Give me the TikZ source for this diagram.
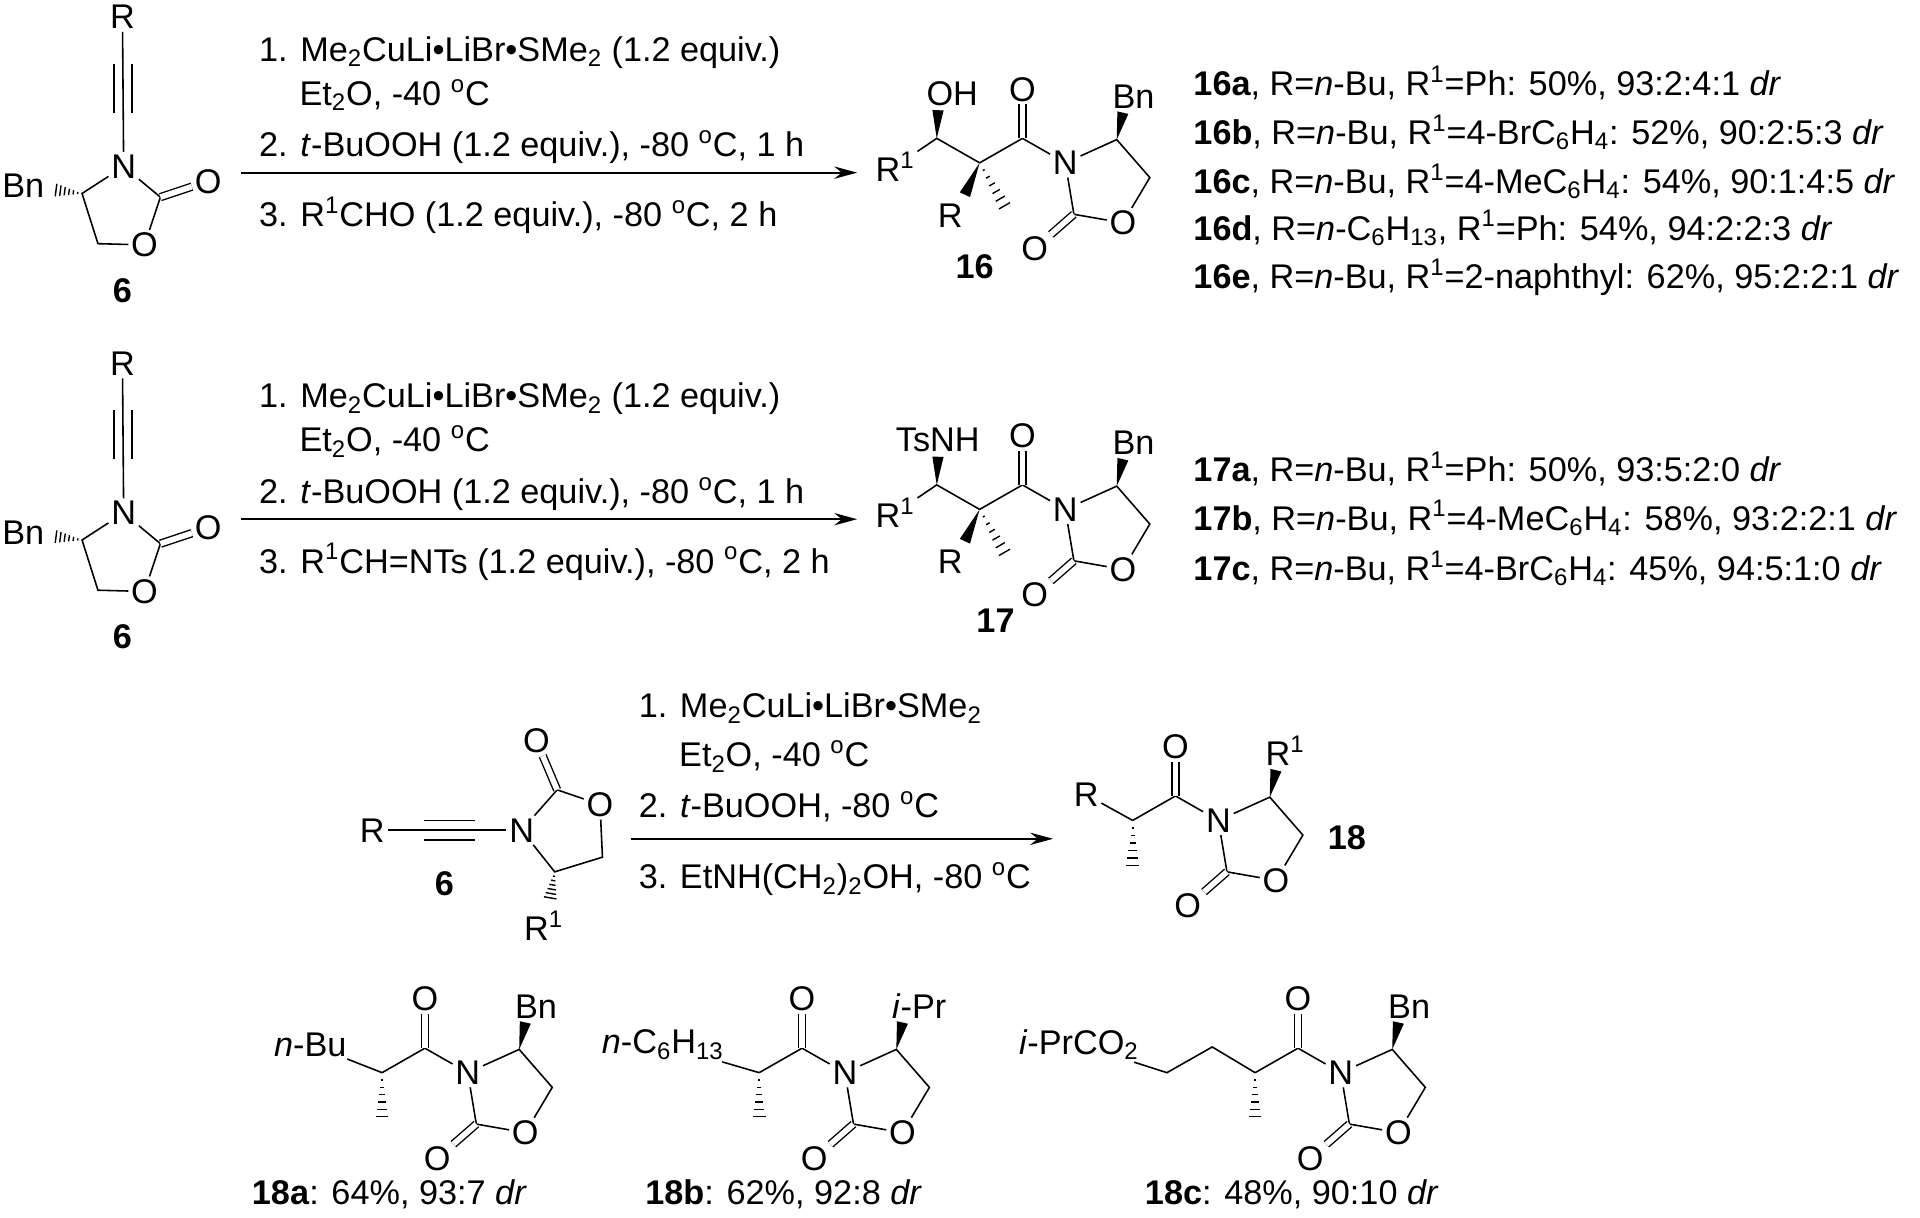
\documentclass[tikz,border=0pt]{standalone}
\usepackage{fontspec}
\setmainfont{Liberation Sans}
\usetikzlibrary{calc,arrows.meta}
\newcommand\chemsize{\fontsize{19.5}{23}\selectfont}
\newcommand\dgC{\textsuperscript{o}C}
% wedge: narrow at #1, wide at #2
\newcommand\wedgeb[2]{\fill (#1) -- ($(#2)!3.2pt!90:(#1)$) -- ($(#2)!3.2pt!-90:(#1)$) -- cycle;}
% hashed bond: narrow at #1, wide at #2
\newcommand\hashb[2]{\foreach \k in {1,...,6}{%
  \pgfmathsetmacro\hw{0.6*\k}
  \coordinate (hh) at ($(#1)!\k/6.5!(#2)$);
  \draw[line width=0.8pt] ($(hh)!\hw pt!90:(#2)$) -- ($(hh)!\hw pt!-90:(#2)$);}}

\begin{document}
\begin{tikzpicture}[
	x=0.0245cm, y=-0.0245cm, line width=0.9pt,
	every node/.style={font=\chemsize},
	atom/.style={inner sep=1.2pt},
	txt/.style={inner sep=0pt, anchor=base west},
	bold/.style={font=\chemsize\bfseries},
	dbl/.style={double, double distance=3.2pt, line width=0.8pt},
	rxn/.style={line width=1pt, -{Stealth[length=13pt,width=7pt]}},
	pics/oxaz/.style={code={
		\coordinate (-Q) at (0,0);
		\coordinate (-Cco) at (35,-20);
		\node[atom] (-O) at (35,-60) {O};
		\node[atom] (-N) at (70,0) {N};
		\coordinate (-C4) at (112,-19);
		\coordinate (-W) at (117,-41);
		\node[inner sep=0pt, anchor=south west] (-Sub) at (108,-44) {#1};
		\coordinate (-C5) at (139,12);
		\node[atom] (-Or) at (117,49) {O};
		\coordinate (-C2) at (77,42);
		\node[atom] (-Ox) at (45,70) {O};
		\draw (-Q) -- (-Cco) -- (-N) -- (-C4) -- (-C5) -- (-Or) -- (-C2) -- (-N);
		\draw[dbl] (-Cco) -- (-O);
		\draw[dbl] (-C2) -- (-Ox);
		\wedgeb{-C4}{-W}
	}},
	pics/ynamide/.style={code={
		\node[atom] (-R) at (100,14) {R};
		\node[atom] (-N) at (101,136) {N};
		\draw (-R) -- (-N);
		\draw (93,52) -- (93,92) (108,52) -- (108,92);
		\coordinate (-C4) at (67,158);
		\node[atom] (-Bn) at (19,152) {Bn};
		\coordinate (-H) at (44,155);
		\coordinate (-C5) at (80,199);
		\node[atom] (-Or) at (118,200) {O};
		\coordinate (-C2) at (131,161);
		\node[atom] (-Ox) at (170,148) {O};
		\draw (-N) -- (-C4) -- (-C5) -- (-Or) -- (-C2) -- (-N);
		\draw[dbl] (-C2) -- (-Ox);
		\hashb{-C4}{-H}
		\node[bold] (-lab) at (100,237) {6};
	}}
	]
	\useasboundingbox (0,0) rectangle (1568,994);

	% row 1
	\pic (s1) at (0,0) {ynamide};
	\coordinate (a1s) at (197,141);
	\coordinate (a1e) at (700,141);
	\draw[rxn] (a1s) -- (a1e);
	\node[txt] (t11) at (211,50) {1. Me\textsubscript{2}CuLi\textbullet LiBr\textbullet SMe\textsubscript{2} (1.2 equiv.)};
	\node[txt] (t12) at (244,86) {Et\textsubscript{2}O, -40 \dgC};
	\node[txt] (t13) at (211,128) {2. \textit{t}-BuOOH (1.2 equiv.), -80 \dgC, 1 h};
	\node[txt] (t14) at (211,185) {3. R\textsuperscript{1}CHO (1.2 equiv.), -80 \dgC, 2 h};

	\pic (p16) at (800,133) {oxaz=Bn};
	\coordinate (c16) at (765,113);
	\coordinate (w16) at (766,90);
	\node[inner sep=0pt, anchor=south west] (oh16) at (756,87) {OH};
	\node[atom] (r116) at (731,136) {R\textsuperscript{1}};
	\coordinate (w16b) at (788,159);
	\node[atom] (r16) at (776,176) {R};
	\coordinate (m16) at (822,171);
	\draw (r116) -- (c16) -- (p16-Q);
	\wedgeb{c16}{w16}
	\wedgeb{p16-Q}{w16b}
	\hashb{p16-Q}{m16}
	\node[bold] (lab16) at (796,218) {16};

	\node[txt] (l16a) at (974,78) {\textbf{16a}, R=\textit{n}-Bu, R\textsuperscript{1}=Ph: 50\%, 93:2:4:1 \textit{dr}};
	\node[txt] (l16b) at (974,118) {\textbf{16b}, R=\textit{n}-Bu, R\textsuperscript{1}=4-BrC\textsubscript{6}H\textsubscript{4}: 52\%, 90:2:5:3 \textit{dr}};
	\node[txt] (l16c) at (974,158) {\textbf{16c}, R=\textit{n}-Bu, R\textsuperscript{1}=4-MeC\textsubscript{6}H\textsubscript{4}: 54\%, 90:1:4:5 \textit{dr}};
	\node[txt] (l16d) at (974,196) {\textbf{16d}, R=\textit{n}-C\textsubscript{6}H\textsubscript{13}, R\textsuperscript{1}=Ph: 54\%, 94:2:2:3 \textit{dr}};
	\node[txt] (l16e) at (974,236) {\textbf{16e}, R=\textit{n}-Bu, R\textsuperscript{1}=2-naphthyl: 62\%, 95:2:2:1 \textit{dr}};

	% row 2
	\pic (s2) at (0,283) {ynamide};
	\coordinate (a2s) at (197,424);
	\coordinate (a2e) at (700,424);
	\draw[rxn] (a2s) -- (a2e);
	\node[txt] (t21) at (211,333) {1. Me\textsubscript{2}CuLi\textbullet LiBr\textbullet SMe\textsubscript{2} (1.2 equiv.)};
	\node[txt] (t22) at (244,369) {Et\textsubscript{2}O, -40 \dgC};
	\node[txt] (t23) at (211,411) {2. \textit{t}-BuOOH (1.2 equiv.), -80 \dgC, 1 h};
	\node[txt] (t24) at (211,468) {3. R\textsuperscript{1}CH=NTs (1.2 equiv.), -80 \dgC, 2 h};

	\pic (p17) at (800,416) {oxaz=Bn};
	\coordinate (c17) at (765,396);
	\coordinate (w17) at (766,373);
	\node[inner sep=0pt, anchor=south west] (ts17) at (731,370) {TsNH};
	\node[atom] (r117) at (731,419) {R\textsuperscript{1}};
	\coordinate (w17b) at (788,442);
	\node[atom] (r17) at (776,459) {R};
	\coordinate (m17) at (822,454);
	\draw (r117) -- (c17) -- (p17-Q);
	\wedgeb{c17}{w17}
	\wedgeb{p17-Q}{w17b}
	\hashb{p17-Q}{m17}
	\node[bold] (lab17) at (813,507) {17};

	\node[txt] (l17a) at (974,393) {\textbf{17a}, R=\textit{n}-Bu, R\textsuperscript{1}=Ph: 50\%, 93:5:2:0 \textit{dr}};
	\node[txt] (l17b) at (974,433) {\textbf{17b}, R=\textit{n}-Bu, R\textsuperscript{1}=4-MeC\textsubscript{6}H\textsubscript{4}: 58\%, 93:2:2:1 \textit{dr}};
	\node[txt] (l17c) at (974,474) {\textbf{17c}, R=\textit{n}-Bu, R\textsuperscript{1}=4-BrC\textsubscript{6}H\textsubscript{4}: 45\%, 94:5:1:0 \textit{dr}};

	% row 3
	\node[atom] (r6) at (304,678) {R};
	\node[atom] (n6) at (426,678) {N};
	\draw (r6) -- (n6);
	\draw (346,670) -- (388,670) (346,686) -- (388,686);
	\coordinate (c2x) at (455,645);
	\node[atom] (ox6) at (438,605) {O};
	\node[atom] (or6) at (490,657) {O};
	\coordinate (c5x) at (492,700);
	\coordinate (c4x) at (453,712);
	\coordinate (h6) at (449,735);
	\node[atom] (r16x) at (444,756) {R\textsuperscript{1}};
	\draw (n6) -- (c2x) -- (or6) -- (c5x) -- (c4x) -- (n6);
	\draw[dbl] (c2x) -- (ox6);
	\hashb{c4x}{h6}
	\node[bold] (lab6) at (363,722) {6};

	\coordinate (a3s) at (515,685);
	\coordinate (a3e) at (860,685);
	\draw[rxn] (a3s) -- (a3e);
	\node[txt] (t31) at (521,586) {1. Me\textsubscript{2}CuLi\textbullet LiBr\textbullet SMe\textsubscript{2}};
	\node[txt] (t32) at (554,626) {Et\textsubscript{2}O, -40 \dgC};
	\node[txt] (t33) at (521,668) {2. \textit{t}-BuOOH, -80 \dgC};
	\node[txt] (t34) at (521,726) {3. EtNH(CH\textsubscript{2})\textsubscript{2}OH, -80 \dgC};

	\pic (p18) at (925,670) {oxaz={R\textsuperscript{1}}};
	\node[atom] (r18) at (887,649) {R};
	\coordinate (m18) at (925,710);
	\draw (r18) -- (p18-Q);
	\hashb{p18-Q}{m18}
	\node[bold] (lab18) at (1100,684) {18};

	% row 4
	\pic (p18a) at (312,876) {oxaz=Bn};
	\node[inner sep=1pt, anchor=east] (nbu) at (285,853) {\textit{n}-Bu};
	\coordinate (m18a) at (312,915);
	\draw (nbu) -- (p18a-Q);
	\hashb{p18a-Q}{m18a}
	\node (cap18a) at (318,975) {\textbf{18a}: 64\%, 93:7 \textit{dr}};

	\pic (p18b) at (620,876) {oxaz={\textit{i}-Pr}};
	\node[inner sep=1pt, anchor=east] (nhex) at (593,853) {\textit{n}-C\textsubscript{6}H\textsubscript{13}};
	\coordinate (m18b) at (620,915);
	\draw (nhex) -- (p18b-Q);
	\hashb{p18b-Q}{m18b}
	\node (cap18b) at (640,975) {\textbf{18b}: 62\%, 92:8 \textit{dr}};

	\pic (p18c) at (1025,876) {oxaz=Bn};
	\node[inner sep=1pt, anchor=east] (co2) at (932,853) {\textit{i}-PrCO\textsubscript{2}};
	\coordinate (k1) at (953,876);
	\coordinate (k2) at (990,855);
	\coordinate (m18c) at (1025,915);
	\draw (co2) -- (k1) -- (k2) -- (p18c-Q);
	\hashb{p18c-Q}{m18c}
	\node (cap18c) at (1055,975) {\textbf{18c}: 48\%, 90:10 \textit{dr}};
\end{tikzpicture}
\end{document}
